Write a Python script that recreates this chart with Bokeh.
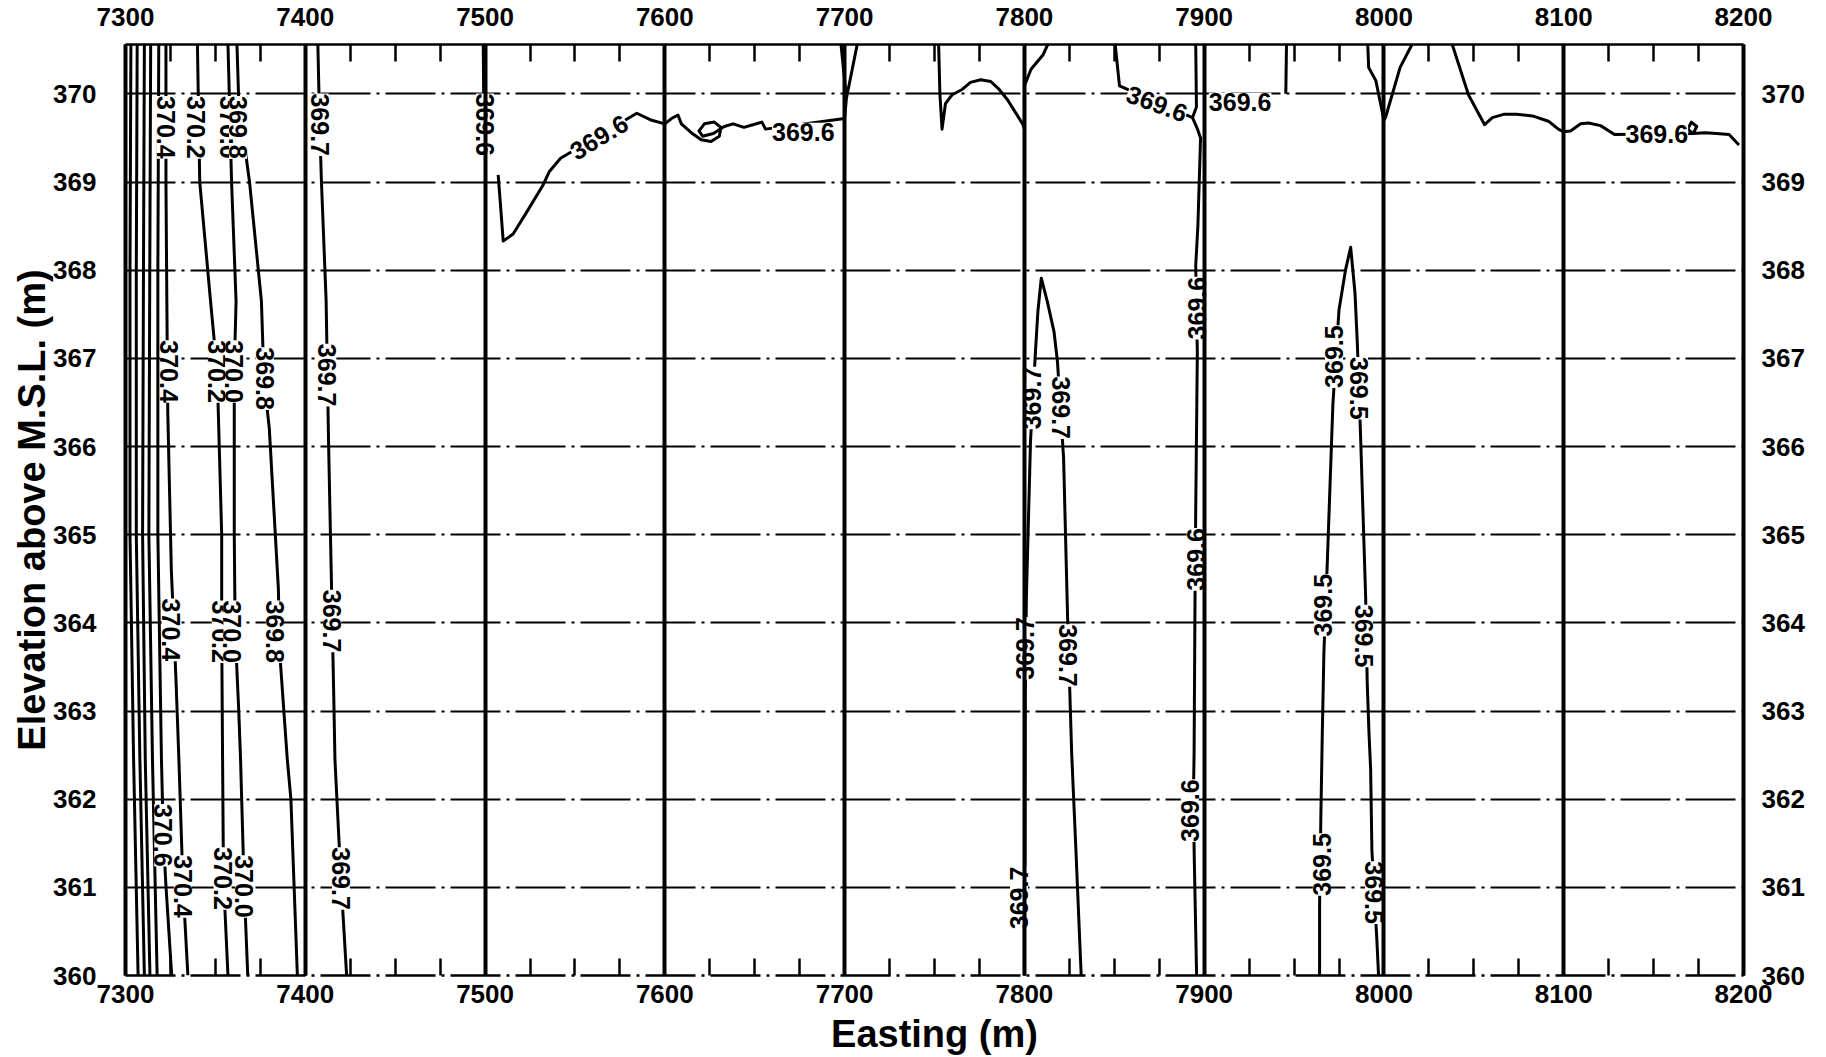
import math
from bokeh.plotting import figure
from bokeh.models import Range1d, LinearAxis, FixedTicker, ColumnDataSource
from bokeh.embed import file_html
from bokeh.resources import INLINE
from bokeh.core.properties import value

# ---------------- data ----------------
x_ticks = [7300, 7400, 7500, 7600, 7700, 7800, 7900, 8000, 8100, 8200]
x_minor = [7300 + 25 * i for i in range(37)]
y_ticks = [360, 361, 362, 363, 364, 365, 366, 367, 368, 369, 370]
x_min, x_max = 7300, 8200
y_min, y_max = 360, 370.56

Y5 = [370.56, 368, 365, 362.45, 360]
c1_x = [7303, 7302.5, 7302.5, 7304.5, 7307]
c2_x = [7306.5, 7306, 7306, 7308, 7310.5]
c3_x = [7310.5, 7310, 7309.5, 7311, 7313.6]
c4_x = [7314, 7313.5, 7313, 7315, 7317.6]

c706_x = [7318.5, 7318, 7318, 7320, 7321, 7322.4, 7325.7]
c706_y = [370.56, 368, 365, 362.45, 361.6, 361.05, 360]

c704_x = [7322.5, 7322.5, 7323, 7323.5, 7325.5, 7328, 7329.7, 7332, 7334.7]
c704_y = [370.56, 369, 367.65, 366.4, 364.6, 363.4, 362.45, 361.01, 360]

c702_x = [7340, 7341.3, 7347.3, 7351, 7353.5, 7353.5, 7354, 7354.5, 7357]
c702_y = [370.56, 369, 367.65, 366.85, 365, 363.9, 362.45, 361.1, 360]

c700_x = [7357, 7359, 7361.5, 7360.5, 7360.5, 7361, 7363, 7364, 7366, 7368]
c700_y = [370.56, 369, 367.65, 366.85, 365, 363.9, 363, 362.45, 361.01, 360]

c698_x = [7362, 7363, 7369, 7375.6, 7377, 7380, 7385, 7386, 7390, 7392, 7395.6]
c698_y = [370.56, 369.9, 369, 367.65, 366.77, 366.2, 364.4, 363.6, 362.45, 362.0, 360]

c697a_x = [7407, 7408, 7409, 7411.6, 7412.3, 7413, 7414, 7415, 7416, 7416.5, 7419.8, 7423]
c697a_y = [370.56, 369.65, 369, 367.65, 366.81, 366, 365, 364.02, 363, 362.45, 361.1, 360]

c696a_x = [7499, 7499.5]
c696a_y = [370.56, 369.3]

c696b_x = [7507.3, 7510.1, 7515.6, 7522.9, 7532.1, 7535.8, 7542, 7584.4, 7592.7, 7600,
           7603.7, 7607.3, 7609.2, 7614.7, 7620.2, 7625.7, 7630.3, 7631.2, 7627.5, 7622,
           7619, 7621, 7627, 7633, 7638, 7644, 7649, 7654, 7656, 7700, 7701, 7698]
c696b_y = [369.08, 368.33, 368.41, 368.65, 368.96, 369.12, 369.27, 369.78, 369.70, 369.66,
           369.72, 369.76, 369.66, 369.56, 369.48, 369.46, 369.52, 369.62, 369.68, 369.66,
           369.58, 369.52, 369.55, 369.63, 369.66, 369.62, 369.65, 369.68, 369.6, 369.72, 369.95, 370.56]

c696c_x = [7701, 7707]
c696c_y = [369.95, 370.56]

c696d_x = [7752.3, 7753, 7754.2, 7756.1, 7759.8, 7765.4, 7770, 7775.7, 7781.3, 7786, 7790.7,
           7794.4, 7799, 7800, 7800, 7803.7, 7810.3, 7813]
c696d_y = [370.56, 370.0, 369.6, 369.89, 369.99, 370.05, 370.13, 370.16, 370.14, 370.05, 369.93,
           369.81, 369.66, 369.6, 370.09, 370.28, 370.44, 370.56]

c696e_x = [7850.5, 7852.9, 7893.5, 7896.3, 7898, 7896.5, 7895.3, 7896.2, 7895.3, 7894.9,
           7894.4, 7894, 7894.5, 7895.8]
c696e_y = [370.56, 370.09, 369.73, 369.6, 369.5, 368.5, 368.05, 367.07, 365.27, 364.24,
           362.52, 362.0, 361.32, 360]

c696f_x = [7895.3, 7895.7, 7893.5]
c696f_y = [370.56, 369.85, 369.73]

c696g_x = [7945.8, 7945.4]
c696g_y = [370.56, 370.0]

c696h_x = [7991, 7991.5, 7995.5, 8000, 8001, 8009, 8015.6]
c696h_y = [370.56, 370.3, 370.15, 369.7, 369.74, 370.3, 370.56]

c696i_x = [8038, 8047, 8056, 8060.3, 8067, 8073.7, 8082.6, 8091.5, 8097, 8100, 8103.8,
           8109.4, 8113.8, 8120.5, 8128.3, 8172, 8174, 8171, 8169, 8172, 8178.6, 8185,
           8192, 8197.5]
c696i_y = [370.56, 369.99, 369.65, 369.73, 369.77, 369.77, 369.75, 369.69, 369.6, 369.57, 369.58,
           369.66, 369.67, 369.64, 369.54, 369.55, 369.63, 369.68, 369.6, 369.55, 369.56, 369.55,
           369.54, 369.42]

c697b_x = [7800, 7800, 7800.3, 7800.5, 7801.1, 7803.4, 7806.2, 7807.5, 7809.4, 7812.8, 7816.5,
           7818.4, 7821.8, 7824, 7825.5, 7826.3, 7828.5, 7831.6]
c697b_y = [360, 360.5, 361.3, 363.2, 364.28, 366.06, 367.09, 367.53, 367.91, 367.64, 367.3,
           366.96, 365.87, 364.09, 363.06, 362.52, 361.5, 360]

c695_x = [7964.2, 7964.2, 7964.9, 7965.7, 7966.6, 7968.5, 7971.6, 7975, 7978.7, 7981.5, 7983.9,
          7985.2, 7987, 7989.8, 7990.7, 7991.7, 7992.6, 7993.3, 7996, 7997]
c695_y = [360, 360.78, 361.79, 362.74, 363.66, 364.69, 366.48, 367.55, 368.01, 368.26, 367.74,
          367.17, 366.12, 364.31, 363.32, 362.74, 362.34, 361.42, 360.43, 360]

label_x = [7322.4, 7339, 7357.5, 7362.6, 7408,
           7324.3, 7351, 7360.4, 7377.5, 7412.3,
           7325.2, 7353, 7359.5, 7383, 7415,
           7321, 7331.9, 7354, 7366, 7419.8,
           7500, 7563.3, 7677, 7873.8, 7920, 7896.2, 7895.3, 7892, 8151.8,
           7804.3, 7800.6, 7797, 7820.3, 7824,
           7972.2, 7966, 7965.4, 7986.1, 7988.9, 7994.4]
label_y = [369.62, 369.62, 369.62, 369.62, 369.65,
           366.85, 366.85, 366.85, 366.77, 366.81,
           363.92, 363.9, 363.9, 363.9, 364.02,
           361.59, 361.01, 361.1, 361.01, 361.1,
           369.65, 369.51, 369.57, 369.89, 369.91, 367.57, 364.72, 361.87, 369.54,
           366.55, 363.71, 360.88, 366.44, 363.63,
           367.02, 364.2, 361.26, 366.66, 363.85, 360.94]
label_text = ["370.4", "370.2", "370.0", "369.8", "369.7",
              "370.4", "370.2", "370.0", "369.8", "369.7",
              "370.4", "370.2", "370.0", "369.8", "369.7",
              "370.6", "370.4", "370.2", "370.0", "369.7",
              "369.6", "369.6", "369.6", "369.6", "369.6", "369.6", "369.6", "369.6", "369.6",
              "369.7", "369.7", "369.7", "369.7", "369.7",
              "369.5", "369.5", "369.5", "369.5", "369.5", "369.5"]
label_rot_deg = [-90, -90, -90, -90, -90,
                 -90, -90, -90, -90, -90,
                 -90, -90, -90, -90, -90,
                 -90, -90, -90, -90, -90,
                 -90, 31, 0, -20, 0, 90, 90, 90, 0,
                 90, 90, 90, -90, -90,
                 90, 90, 90, -90, -90, -90]

# ---------------- figure ----------------
FONT = "Liberation Sans"
p = figure(width=1807, height=1057,
           x_range=Range1d(x_min, x_max), y_range=Range1d(y_min, y_max),
           output_backend="svg", toolbar_location=None,
           min_border_left=125, min_border_right=60, min_border_top=44, min_border_bottom=75)
p.background_fill_color = "white"
p.border_fill_color = "white"
p.outline_line_color = None

xt = FixedTicker(ticks=x_ticks, minor_ticks=x_minor)
yt = FixedTicker(ticks=y_ticks, minor_ticks=[])

bottom = p.below[0]
left = p.left[0]
top = LinearAxis()
right = LinearAxis()
p.add_layout(top, "above")
p.add_layout(right, "right")

for ax in [bottom, top]:
    ax.ticker = xt
    ax.major_tick_in = 17
    ax.major_tick_out = 0
    ax.minor_tick_in = 17
    ax.minor_tick_out = 0
    ax.major_tick_line_width = 2.5
    ax.minor_tick_line_width = 2.5
    ax.axis_line_width = 2.5
for ax in [left, right]:
    ax.ticker = yt
    ax.major_tick_in = 0
    ax.major_tick_out = 0
    ax.minor_tick_in = 0
    ax.minor_tick_out = 0
    ax.axis_line_width = 4
for ax in [bottom, top, left, right]:
    ax.axis_line_color = "black"
    ax.major_tick_line_color = "black"
    ax.minor_tick_line_color = "black"
    ax.major_label_text_font = FONT
    ax.major_label_text_font_style = "bold"
    ax.major_label_text_font_size = "26px"
    ax.major_label_text_color = "black"

bottom.axis_line_dash = "50 6 3 6"
bottom.major_label_standoff = 9
top.major_label_standoff = 19
left.major_label_standoff = 29
right.major_label_standoff = 18

bottom.axis_label = "Easting (m)"
left.axis_label = "Elevation above M.S.L. (m)"
for ax in [bottom, left]:
    ax.axis_label_text_font = FONT
    ax.axis_label_text_font_style = "bold"
    ax.axis_label_text_font_size = "38px"
    ax.axis_label_text_color = "black"
bottom.axis_label_standoff = 7
left.axis_label_standoff = -3

p.xgrid.ticker = FixedTicker(ticks=x_ticks)
p.xgrid.grid_line_color = "black"
p.xgrid.grid_line_width = 4
p.xgrid.level = "overlay"
p.ygrid.ticker = FixedTicker(ticks=y_ticks)
p.ygrid.grid_line_color = "black"
p.ygrid.grid_line_width = 1.8
p.ygrid.grid_line_dash = "50 6 3 6"

contours = [
    (c1_x, Y5), (c2_x, Y5), (c3_x, Y5), (c4_x, Y5),
    (c706_x, c706_y), (c704_x, c704_y), (c702_x, c702_y), (c700_x, c700_y),
    (c698_x, c698_y), (c697a_x, c697a_y),
    (c696a_x, c696a_y), (c696b_x, c696b_y), (c696c_x, c696c_y), (c696d_x, c696d_y),
    (c696e_x, c696e_y), (c696f_x, c696f_y), (c696g_x, c696g_y), (c696h_x, c696h_y),
    (c696i_x, c696i_y), (c697b_x, c697b_y), (c695_x, c695_y),
]
p.multi_line(xs=[c[0] for c in contours], ys=[c[1] for c in contours],
             line_color="black", line_width=3, line_join="round")

src = ColumnDataSource(dict(x=label_x, y=label_y, t=label_text,
                            a=[math.radians(d) for d in label_rot_deg]))
p.text(x="x", y="y", text="t", angle="a", source=src,
       text_font=value(FONT), text_font_style="bold", text_font_size="25px",
       text_color="black", text_align="center", text_baseline="middle",
       background_fill_color="white")

open("out.html", "w").write(file_html(p, INLINE))
